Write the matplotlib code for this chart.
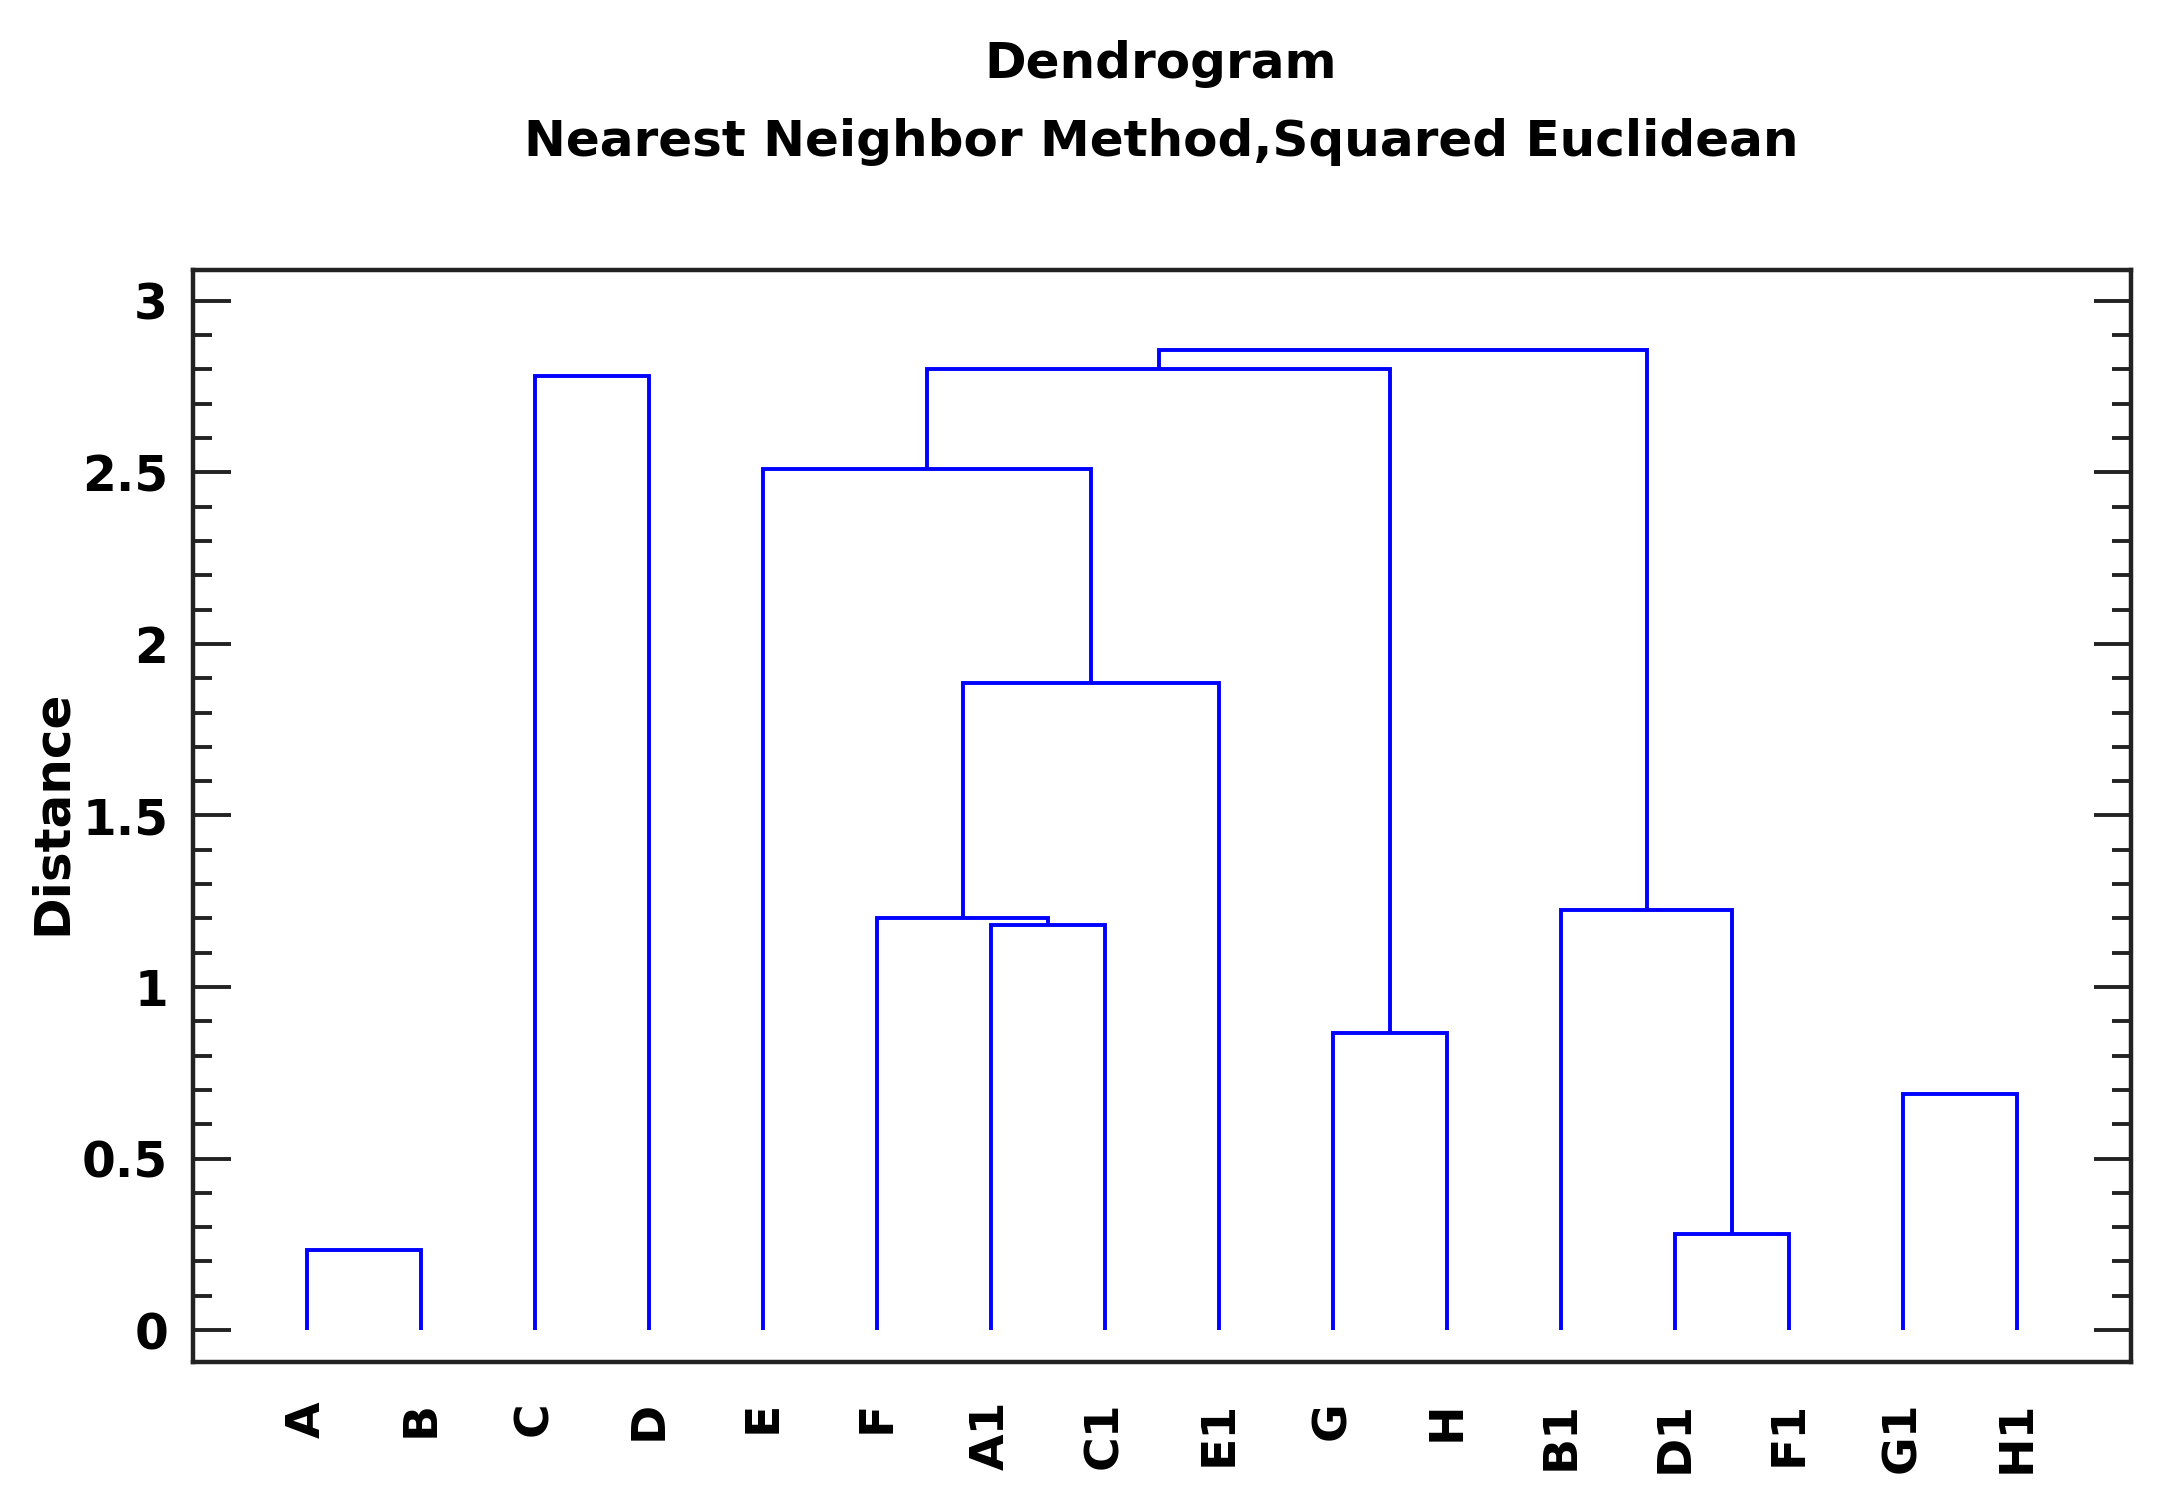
import matplotlib
matplotlib.use("Agg")
import matplotlib.pyplot as plt
from matplotlib.ticker import MultipleLocator

# ---- data ----
leaves = ["A", "B", "C", "D", "E", "F", "A1", "C1", "E1", "G", "H",
          "B1", "D1", "F1", "G1", "H1"]
# merges: (left cluster, right cluster, new cluster name, height)
merge_left = ["A", "C", "A1", "F", "FA1C1", "E", "G", "EF", "D1", "B1", "EFGH", "G1"]
merge_right = ["B", "D", "C1", "A1C1", "E1", "FAE1", "H", "GH", "F1", "D1F1", "B1D1F1", "H1"]
merge_name = ["AB", "CD", "A1C1", "FA1C1", "FAE1", "EF", "GH", "EFGH", "D1F1", "B1D1F1", "TOP", "G1H1"]
merge_height = [0.234, 2.78, 1.18, 1.20, 1.885, 2.509, 0.865, 2.801, 0.280, 1.225, 2.857, 0.688]

title_lines = ["Dendrogram", "Nearest Neighbor Method,Squared Euclidean"]
y_label = "Distance"
y_ticks = [0, 0.5, 1, 1.5, 2, 2.5, 3]
y_ticklabels = ["0", "0.5", "1", "1.5", "2", "2.5", "3"]

# ---- plot ----
plt.rcParams['font.family'] = ['DejaVu Sans']
fig = plt.figure(figsize=(10.8, 7.55), dpi=200)
ax = fig.add_axes([0.0894, 0.098, 0.8972, 0.7232])

pos = {name: i + 1 for i, name in enumerate(leaves)}
hgt = {name: 0.0 for name in leaves}
col = "#0000FF"
for l, r, n, h in zip(merge_left, merge_right, merge_name, merge_height):
    xl, xr = pos[l], pos[r]
    ax.plot([xl, xl, xr, xr], [hgt[l], h, h, hgt[r]], color=col, lw=1.4,
            solid_joinstyle='miter', solid_capstyle='butt')
    pos[n] = (xl + xr) / 2
    hgt[n] = h

ax.set_xlim(0, len(leaves) + 1)
ax.set_ylim(-0.093, 3.09)
ax.set_xticks(range(1, len(leaves) + 1))
ax.set_xticklabels(leaves, rotation=90, fontsize=17, fontweight='bold')
ax.tick_params(axis='x', length=0, pad=14)
ax.yaxis.set_minor_locator(MultipleLocator(0.1))
ax.set_yticks(y_ticks)
ax.set_yticklabels(y_ticklabels, fontsize=17.5, fontweight='bold')
ax.tick_params(axis='y', which='major', direction='in', length=13.5, width=1.4,
               color='#222222', right=True, pad=9)
ax.tick_params(axis='y', which='minor', direction='in', length=6.8, width=1.4,
               color='#222222', right=True)
for s in ax.spines.values():
    s.set_linewidth(1.6)
    s.set_color('#222222')

fig.text(0.024, 1 - 812 / 1510, y_label, rotation=90, ha='center', va='center',
         fontsize=18, fontweight='bold')
fig.text(0.5375, 1 - 64 / 1510, title_lines[0], ha='center', va='center',
         fontsize=18, fontweight='bold')
fig.text(0.5375, 1 - 142 / 1510, title_lines[1], ha='center', va='center',
         fontsize=18, fontweight='bold')

fig.savefig("out.png", dpi=200, facecolor='white')
